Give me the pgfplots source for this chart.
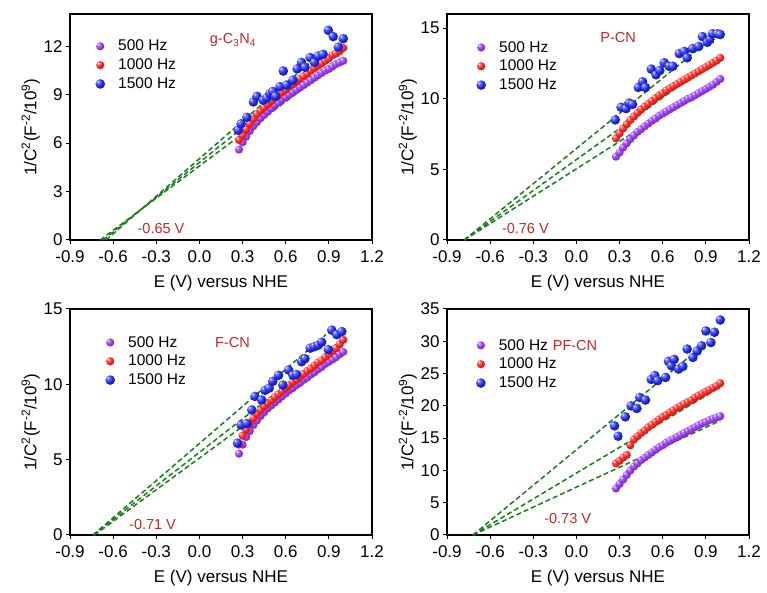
\documentclass[border=0pt]{standalone}
\usepackage{fontspec}
\setmainfont{Liberation Sans}
\usepackage{pgfplots}
\pgfplotsset{compat=1.18}
\definecolor{cpurple}{RGB}{140,45,228}
\definecolor{cred}{RGB}{238,25,20}
\definecolor{cblue}{RGB}{22,32,218}
\definecolor{cgreen}{RGB}{25,125,25}
\definecolor{cdred}{RGB}{195,40,40}
\pgfdeclareradialshading{shP}{\pgfpoint{-14bp}{14bp}}{color(0bp)=(white); color(6bp)=(white!45!cpurple); color(22bp)=(cpurple); color(40bp)=(cpurple!85!black); color(70bp)=(cpurple!65!black)}
\pgfdeclareradialshading{shR}{\pgfpoint{-14bp}{14bp}}{color(0bp)=(white); color(6bp)=(white!45!cred); color(22bp)=(cred); color(40bp)=(cred!85!black); color(70bp)=(cred!65!black)}
\pgfdeclareradialshading{shB}{\pgfpoint{-14bp}{14bp}}{color(0bp)=(white); color(6bp)=(white!45!cblue); color(22bp)=(cblue); color(40bp)=(cblue!85!black); color(70bp)=(cblue!65!black)}
\pgfdeclareplotmark{ballP}{\pgfpathcircle{\pgfpointorigin}{\pgfplotmarksize}\pgfshadepath{shP}{0}\pgfusepath{}}
\pgfdeclareplotmark{ballR}{\pgfpathcircle{\pgfpointorigin}{\pgfplotmarksize}\pgfshadepath{shR}{0}\pgfusepath{}}
\pgfdeclareplotmark{ballB}{\pgfpathcircle{\pgfpointorigin}{\pgfplotmarksize}\pgfshadepath{shB}{0}\pgfusepath{}}
\tikzset{ann/.style={text=cdred, font=\fontsize{14.5}{16}\selectfont}}
\pgfplotsset{
  panel/.style={
    scale only axis, width=302pt, height=226pt,
    xmin=-0.9, xmax=1.2,
    xtick={-0.9,-0.6,-0.3,0,0.3,0.6,0.9,1.2},
    xticklabels={-0.9,-0.6,-0.3,0.0,0.3,0.6,0.9,1.2},
    xtick pos=left, ytick pos=left,
    tick align=outside, major tick length=4pt,
    axis line style={line width=1.2pt},
    every tick/.style={black, line width=1pt},
    ticklabel style={font=\fontsize{17}{19}\selectfont},
    xticklabel style={yshift=-3pt},
    xlabel={E (V) versus NHE},
    ylabel={1/C\textsuperscript{2}(F\textsuperscript{-2}/10\textsuperscript{9})},
    label style={font=\fontsize{17}{19}\selectfont},
    x label style={at={(axis description cs:0.5,-0.19)}, anchor=center},
    y label style={at={(axis description cs:-0.13,0.5)}, anchor=center},
    legend cell align=left,
    legend style={draw=none, fill=none, font=\fontsize{15.5}{18}\selectfont, row sep=2.5pt, inner sep=0pt},
    legend image code/.code={\path[draw=none,fill=none] (0pt,0pt) -- (24pt,0pt); \draw[##1] plot coordinates {(8pt,0pt)};},
    clip=false,
  },
  pser/.style={only marks, mark=ballP, mark size=4.1pt},
  rser/.style={only marks, mark=ballR, mark size=4.1pt},
  bser/.style={only marks, mark=ballB, mark size=4.8pt},
  fit/.style={cgreen, line width=1.5pt, dash pattern=on 5pt off 3pt, forget plot},
}
\begin{document}
\begin{tikzpicture}
\useasboundingbox (0,0) rectangle (767pt,593pt);

% ---------- Panel 1: g-C3N4 ----------
\begin{axis}[panel, at={(70pt,353pt)}, anchor=south west,
  ymin=0, ymax=14, ytick={0,3,6,9,12}, yticklabels={0,3,6,9,12},
  legend style={at={(axis description cs:0.073,0.894)}, anchor=north west}]
\addplot[pser] coordinates {(0.275,5.6)(0.3,6.05)(0.325,6.4)(0.35,6.75)(0.375,7.05)(0.4,7.3)(0.425,7.55)(0.45,7.75)(0.475,7.95)(0.5,8.15)(0.525,8.35)(0.55,8.5)(0.575,8.7)(0.6,8.85)(0.625,9.0)(0.65,9.15)(0.675,9.3)(0.7,9.45)(0.725,9.6)(0.75,9.75)(0.775,9.9)(0.8,10.05)(0.825,10.2)(0.85,10.35)(0.875,10.5)(0.9,10.6)(0.925,10.75)(0.95,10.9)(0.975,11.0)(1.0,11.1)};
\addlegendentry{500 Hz}
\addplot[rser] coordinates {(0.275,6.2)(0.3,6.5)(0.325,6.85)(0.35,7.2)(0.375,7.5)(0.4,7.8)(0.425,8.0)(0.45,8.2)(0.475,8.4)(0.5,8.6)(0.525,8.8)(0.55,8.95)(0.575,9.15)(0.6,9.3)(0.625,9.5)(0.65,9.65)(0.675,9.8)(0.7,10.0)(0.725,10.15)(0.75,10.3)(0.775,10.5)(0.8,10.65)(0.825,10.8)(0.85,10.95)(0.875,11.1)(0.9,11.25)(0.925,11.45)(0.95,11.55)(0.975,11.7)(1.0,11.9)};
\addlegendentry{1000 Hz}
\addplot[bser] coordinates {(0.27,6.8)(0.29,7.2)(0.33,7.6)(0.375,8.55)(0.40,8.9)(0.444,8.66)(0.47,8.8)(0.49,9.07)(0.51,9.2)(0.53,8.9)(0.56,9.5)(0.583,10.47)(0.607,9.6)(0.65,9.9)(0.68,10.6)(0.71,11.0)(0.734,10.7)(0.77,11.3)(0.80,11.0)(0.826,11.4)(0.86,11.5)(0.896,12.99)(0.93,12.6)(0.966,11.95)(1.0,12.47)};
\addlegendentry{1500 Hz}
\addplot[fit] coordinates {(-0.69,0)(0.95,10.9)};
\addplot[fit] coordinates {(-0.67,0)(0.92,11.4)};
\addplot[fit] coordinates {(-0.65,0)(0.86,11.7)};
\node[ann] at (axis cs:-0.267,0.74) {-0.65 V};
\node[ann] at (axis cs:0.233,12.37) {g-C\textsubscript{3}N\textsubscript{4}};
\end{axis}

% ---------- Panel 2: P-CN ----------
\begin{axis}[panel, at={(447pt,353pt)}, anchor=south west,
  ymin=0, ymax=16, ytick={0,5,10,15}, yticklabels={0,5,10,15},
  legend style={at={(axis description cs:0.086,0.889)}, anchor=north west}]
\addplot[pser] coordinates {(0.275,5.9)(0.3,6.2)(0.325,6.55)(0.35,6.85)(0.375,7.15)(0.4,7.4)(0.425,7.65)(0.45,7.85)(0.475,8.05)(0.5,8.25)(0.525,8.45)(0.55,8.6)(0.575,8.8)(0.6,8.95)(0.625,9.1)(0.65,9.25)(0.675,9.4)(0.7,9.55)(0.725,9.7)(0.75,9.85)(0.775,10.0)(0.8,10.1)(0.825,10.25)(0.85,10.4)(0.875,10.55)(0.9,10.7)(0.925,10.85)(0.95,11.0)(0.975,11.2)(1.0,11.4)};
\addlegendentry{500 Hz}
\addplot[rser] coordinates {(0.275,7.2)(0.3,7.55)(0.325,7.9)(0.35,8.2)(0.375,8.5)(0.4,8.75)(0.425,9.0)(0.45,9.25)(0.475,9.45)(0.5,9.65)(0.525,9.85)(0.55,10.05)(0.575,10.25)(0.6,10.4)(0.625,10.6)(0.65,10.75)(0.675,10.9)(0.7,11.05)(0.725,11.2)(0.75,11.35)(0.775,11.5)(0.8,11.65)(0.825,11.8)(0.85,11.95)(0.875,12.1)(0.9,12.25)(0.925,12.4)(0.95,12.55)(0.975,12.7)(1.0,12.9)};
\addlegendentry{1000 Hz}
\addplot[bser] coordinates {(0.27,8.5)(0.31,9.4)(0.345,9.3)(0.365,9.7)(0.39,9.6)(0.43,10.8)(0.46,11.2)(0.48,10.8)(0.52,12.1)(0.553,11.7)(0.58,12.0)(0.61,12.55)(0.645,12.3)(0.67,12.3)(0.715,13.2)(0.75,13.35)(0.77,12.9)(0.807,13.55)(0.85,13.7)(0.876,14.4)(0.91,14.0)(0.93,14.2)(0.946,14.6)(0.98,14.6)(1.0,14.55)};
\addlegendentry{1500 Hz}
\addplot[fit] coordinates {(-0.78,0)(1.0,11.5)};
\addplot[fit] coordinates {(-0.78,0)(1.0,13.0)};
\addplot[fit] coordinates {(-0.78,0)(0.93,14.2)};
\node[ann] at (axis cs:-0.355,0.78) {-0.76 V};
\node[ann] at (axis cs:0.29,14.3) {P-CN};
\end{axis}

% ---------- Panel 3: F-CN ----------
\begin{axis}[panel, at={(70pt,58pt)}, anchor=south west,
  ymin=0, ymax=15, ytick={0,5,10,15}, yticklabels={0,5,10,15},
  legend style={at={(axis description cs:0.106,0.889)}, anchor=north west}]
\addplot[pser] coordinates {(0.275,5.4)(0.3,6.0)(0.325,6.5)(0.35,6.9)(0.375,7.3)(0.4,7.6)(0.425,7.9)(0.45,8.15)(0.475,8.4)(0.5,8.6)(0.525,8.8)(0.55,9.0)(0.575,9.2)(0.6,9.4)(0.625,9.6)(0.65,9.75)(0.675,9.95)(0.7,10.1)(0.725,10.3)(0.75,10.45)(0.775,10.65)(0.8,10.8)(0.825,11.0)(0.85,11.15)(0.875,11.35)(0.9,11.5)(0.925,11.65)(0.95,11.8)(0.975,12.0)(1.0,12.15)};
\addlegendentry{500 Hz}
\addplot[rser] coordinates {(0.275,6.0)(0.3,6.6)(0.325,7.0)(0.35,7.4)(0.375,7.75)(0.4,8.05)(0.425,8.3)(0.45,8.55)(0.475,8.75)(0.5,8.95)(0.525,9.15)(0.55,9.35)(0.575,9.55)(0.6,9.75)(0.625,9.95)(0.65,10.15)(0.675,10.3)(0.7,10.5)(0.725,10.7)(0.75,10.9)(0.775,11.05)(0.8,11.25)(0.825,11.45)(0.85,11.6)(0.875,11.8)(0.9,12.0)(0.925,12.2)(0.95,12.4)(0.975,12.65)(1.0,12.95)};
\addlegendentry{1000 Hz}
\addplot[bser] coordinates {(0.265,6.1)(0.29,7.3)(0.33,7.4)(0.364,8.3)(0.386,9.2)(0.433,8.96)(0.456,9.6)(0.485,9.75)(0.51,10.2)(0.55,10.6)(0.58,9.95)(0.62,10.95)(0.65,10.6)(0.675,10.65)(0.71,11.5)(0.734,11.7)(0.77,12.4)(0.80,12.5)(0.826,12.6)(0.85,12.8)(0.896,12.3)(0.92,13.6)(0.955,13.3)(0.99,13.5)};
\addlegendentry{1500 Hz}
\addplot[fit] coordinates {(-0.73,0)(1.0,12.1)};
\addplot[fit] coordinates {(-0.74,0)(1.0,12.9)};
\addplot[fit] coordinates {(-0.74,0)(0.88,13.3)};
\node[ann] at (axis cs:-0.326,0.71) {-0.71 V};
\node[ann] at (axis cs:0.23,12.76) {F-CN};
\end{axis}

% ---------- Panel 4: PF-CN ----------
\begin{axis}[panel, at={(447pt,58pt)}, anchor=south west,
  ymin=0, ymax=35, ytick={0,5,10,15,20,25,30,35}, yticklabels={0,5,10,15,20,25,30,35},
  legend style={at={(axis description cs:0.085,0.876)}, anchor=north west}]
\addplot[pser] coordinates {(0.275,7.2)(0.3,7.9)(0.325,8.6)(0.35,9.3)(0.375,10.0)(0.4,10.6)(0.425,11.1)(0.45,11.6)(0.475,12.0)(0.5,12.4)(0.525,12.8)(0.55,13.2)(0.575,13.6)(0.6,13.9)(0.625,14.3)(0.65,14.6)(0.675,14.9)(0.7,15.2)(0.725,15.5)(0.75,15.8)(0.775,16.1)(0.8,16.4)(0.825,16.7)(0.85,17.0)(0.875,17.3)(0.9,17.5)(0.925,17.8)(0.95,18.0)(0.975,18.2)(1.0,18.4)};
\addlegendentry{500 Hz}
\addplot[rser] coordinates {(0.275,11.1)(0.3,11.5)(0.325,12.0)(0.35,12.4)(0.375,13.9)(0.4,14.8)(0.425,15.3)(0.45,15.8)(0.475,16.2)(0.5,16.7)(0.525,17.1)(0.55,17.5)(0.575,17.9)(0.6,18.3)(0.625,18.6)(0.65,19.0)(0.675,19.3)(0.7,19.7)(0.725,20.0)(0.75,20.3)(0.775,20.6)(0.8,20.9)(0.825,21.3)(0.85,21.6)(0.875,21.9)(0.9,22.2)(0.925,22.5)(0.95,22.8)(0.975,23.1)(1.0,23.5)};
\addlegendentry{1000 Hz}
\addplot[bser] coordinates {(0.265,16.9)(0.29,15.3)(0.34,18.3)(0.38,20.0)(0.42,19.6)(0.44,21.3)(0.48,20.9)(0.52,24.1)(0.545,24.7)(0.565,23.9)(0.62,24.4)(0.64,26.9)(0.66,26.2)(0.68,27.2)(0.71,25.7)(0.74,26.1)(0.77,28.8)(0.81,27.5)(0.84,28.5)(0.87,29.3)(0.90,31.6)(0.935,29.8)(0.96,31.4)(1.0,33.3)};
\addlegendentry{1500 Hz}
\addplot[fit] coordinates {(-0.72,0)(1.0,17.7)};
\addplot[fit] coordinates {(-0.72,0)(1.0,22.9)};
\addplot[fit] coordinates {(-0.72,0)(0.98,31.2)};
\node[ann] at (axis cs:-0.061,2.5) {-0.73 V};
\node[ann] at (axis cs:-0.01,29.3) {PF-CN};
\end{axis}
\end{tikzpicture}
\end{document}
